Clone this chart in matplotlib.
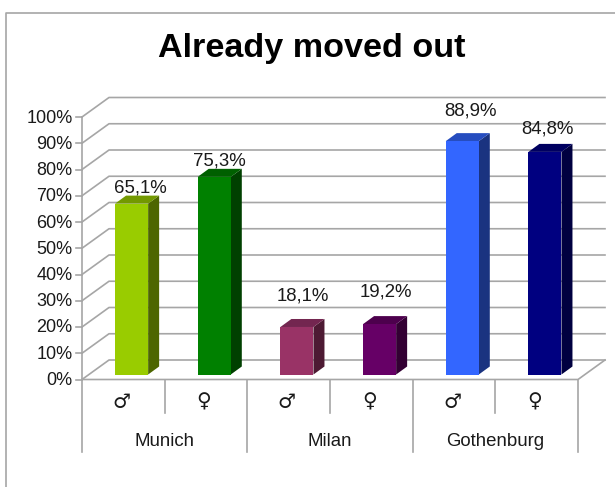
import matplotlib
matplotlib.use("Agg")
import matplotlib.pyplot as plt
from matplotlib.patches import Polygon

title = "Already moved out"
cities = ["Munich", "Milan", "Gothenburg"]
genders = ["♂", "♀", "♂", "♀", "♂", "♀"]
values = [65.1, 75.3, 18.1, 19.2, 88.9, 84.8]
value_labels = ["65,1%", "75,3%", "18,1%", "19,2%", "88,9%", "84,8%"]
yticks = list(range(0, 101, 10))
front = ["#99cc00", "#008000", "#993366", "#660066", "#3366ff", "#000080"]
top = ["#739900", "#006000", "#732650", "#4d004d", "#264dbf", "#000060"]
side = ["#4d6600", "#004000", "#4d1a33", "#330033", "#1a3380", "#000040"]
# label offsets from the bar's front-top centre, in pixels
label_dx = [9, 5, 6, 6, 8, 3]
label_dy = [15.5, 15.5, 31, 32, 30.5, 22.5]

W, H = 615, 487
plt.rcParams["font.family"] = ["Liberation Sans", "DejaVu Sans"]
fig = plt.figure(figsize=(W / 100, H / 100), dpi=100)
fig.patch.set_facecolor("white")

# Chart frame
fig.add_artist(plt.Line2D([6 / W, 6 / W, 1], [0, 1 - 12.5 / H, 1 - 12.5 / H],
                          color="#a6a6a6", lw=1.2))

L, R, T, B = 82, 578, 117, 379.5
ax = fig.add_axes([L / W, 1 - B / H, (R - L) / W, (B - T) / H])
ax.set_xlim(0, 6)
ax.set_ylim(0, 100)
ax.axis("off")
xu = (R - L) / 6
yu = (B - T) / 100
DX, DY = 27 / xu, 19.5 / yu          # depth of the floor
GRID = "#a6a6a6"
TXT = "#1a1a1a"
lw = 1.2

for y in yticks:
    ax.plot([0, DX, 6 + DX], [y, y + DY, y + DY], color=GRID, lw=lw, clip_on=False, zorder=1)
    ax.plot([-6 / xu, 0], [y, y], color=GRID, lw=lw, clip_on=False, zorder=1)
    ax.text(-9.5 / xu, y - 1 / yu, f"{y}%", ha="right", va="center", fontsize=13, color=TXT, clip_on=False)
ax.plot([0, 0], [0, 100], color=GRID, lw=lw, clip_on=False, zorder=1)
ax.plot([0, 6, 6 + DX], [0, 0, DY], color=GRID, lw=lw, clip_on=False, zorder=1)

# Category separators
for i in range(7):
    depth = 72 if i % 2 == 0 else 33
    ax.plot([i, i], [0, -depth / yu], color=GRID, lw=lw, clip_on=False, zorder=1)
for i, g in enumerate(genders):
    ax.text(i + 0.5 - 2 / xu, -22.5 / yu, g, ha="center", va="center", fontsize=14.5, color=TXT,
            family=["DejaVu Sans"], clip_on=False)
for i, c in enumerate(cities):
    ax.text(2 * i + 1, -62 / yu, c, ha="center", va="center", fontsize=13.4, color=TXT, clip_on=False)

# Bars
bx0, bw = 0.4, 0.4
bdx, bdy = 11 / xu, 8 / yu
base = 5 / yu
for i, v in enumerate(values):
    x0, x1 = i + bx0, i + bx0 + bw
    y0, y1 = base, base + v
    ax.add_patch(Polygon([(x1, y0), (x1 + bdx, y0 + bdy), (x1 + bdx, y1 + bdy), (x1, y1)],
                         fc=side[i], ec="none", clip_on=False, zorder=3))
    ax.add_patch(Polygon([(x0, y1), (x0 + bdx, y1 + bdy), (x1 + bdx, y1 + bdy), (x1, y1)],
                         fc=top[i], ec="none", clip_on=False, zorder=3))
    ax.add_patch(Polygon([(x0, y0), (x1, y0), (x1, y1), (x0, y1)],
                         fc=front[i], ec="none", clip_on=False, zorder=4))
    ax.text((x0 + x1) / 2 + label_dx[i] / xu, y1 + label_dy[i] / yu, value_labels[i],
            ha="center", va="center", fontsize=13.4, color=TXT, clip_on=False, zorder=5)

fig.text(312 / W, 1 - 49 / H, title, ha="center", va="center", fontsize=24.6, fontweight="bold",
         color="black")
fig.savefig("out.png", dpi=100)
